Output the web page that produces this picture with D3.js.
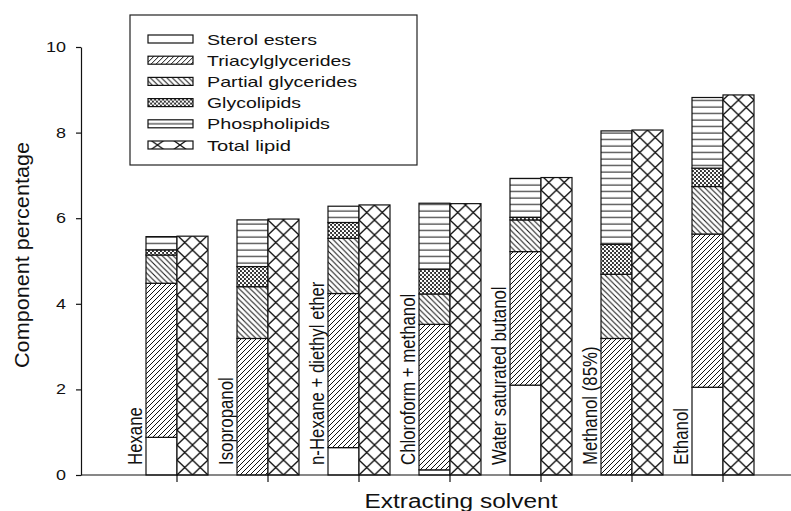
<!DOCTYPE html>
<meta charset="utf-8">
<style>
body { margin: 0; background: #fff; }
text { font-family: "Liberation Sans", Arial, sans-serif; fill: #111; }
.axis path, .axis line { stroke: #111; stroke-width: 1.2px; }
.seg { stroke: #111; stroke-width: 1.2px; }
</style>
<body>
<svg id="chart" width="791" height="511"></svg>
<script src="https://d3js.org/d3.v7.min.js"></script>
<script>

// values (component %, stacked from the bottom)
var solvents = ["Hexane", "Isopropanol", "n-Hexane + diethyl ether", "Chloroform + methanol",
                "Water saturated butanol", "Methanol (85%)", "Ethanol"];
var components = ["Sterol esters", "Triacylglycerides", "Partial glycerides", "Glycolipids", "Phospholipids"];
var sterolEsters      = [0.88, 0.00, 0.64, 0.12, 2.10, 0.00, 2.05];
var triacylglycerides = [3.60, 3.19, 3.60, 3.40, 3.12, 3.19, 3.58];
var partialGlycerides = [0.66, 1.21, 1.29, 0.71, 0.74, 1.50, 1.11];
var glycolipids       = [0.12, 0.47, 0.37, 0.58, 0.06, 0.70, 0.43];
var phospholipids     = [0.31, 1.09, 0.38, 1.54, 0.91, 2.65, 1.65];
var totalLipid        = [5.58, 5.98, 6.31, 6.34, 6.95, 8.06, 8.88];
var yTicks = [0, 2, 4, 6, 8, 10];

var legendNames = components.concat(["Total lipid"]);
var legendWidths = [110, 144, 150, 94, 123, 84];   // text widths in the picture

var svg = d3.select("#chart");
var bw = 31;

var x = d3.scaleBand()
    .domain(solvents)
    .range([131.5, 768.5]);

var y = d3.scaleLinear()
    .domain([0, 10])
    .range([475, 47]);

var cx = function(d) { return x(d) + x.bandwidth() / 2; };

// ---- patterns
var defs = svg.append("defs");

function hatch(id, p, dir) {
  var pat = defs.append("pattern")
      .attr("id", id)
      .attr("patternUnits", "userSpaceOnUse")
      .attr("width", p).attr("height", p);
  pat.append("rect").attr("width", p).attr("height", p).attr("fill", "#fff");
  var d = dir > 0
    ? "M0," + p + "L" + p + ",0M-1,1L1,-1M" + (p - 1) + "," + (p + 1) + "L" + (p + 1) + "," + (p - 1)
    : "M0,0L" + p + "," + p + "M-1," + (p - 1) + "L1," + (p + 1) + "M" + (p - 1) + ",-1L" + (p + 1) + ",1";
  pat.append("path").attr("d", d).attr("stroke", "#111").attr("stroke-width", 1);
}
hatch("p-tag", 5, 1);
hatch("p-partial", 5.5, -1);

var glyco = defs.append("pattern")
    .attr("id", "p-glyco")
    .attr("patternUnits", "userSpaceOnUse")
    .attr("width", 4).attr("height", 4);
glyco.append("rect").attr("width", 4).attr("height", 4).attr("fill", "#2a2a2a");
glyco.selectAll("circle").data([[1, 1], [3, 3]]).enter().append("circle")
    .attr("cx", function(d) { return d[0]; })
    .attr("cy", function(d) { return d[1]; })
    .attr("r", 1.25)
    .attr("fill", "#fff");

function stripes(id, offset) {
  var pat = defs.append("pattern")
      .attr("id", id)
      .attr("patternUnits", "userSpaceOnUse")
      .attr("y", offset)
      .attr("width", 10).attr("height", 6.5);
  pat.append("rect").attr("width", 10).attr("height", 6.5).attr("fill", "#fff");
  pat.append("line").attr("x1", 0).attr("x2", 10).attr("y1", 3).attr("y2", 3)
      .attr("stroke", "#111").attr("stroke-width", 1);
}
stripes("p-phospho", 0);
stripes("p-phospho-leg", -3);

function cross(id, w, h) {
  var pat = defs.append("pattern")
      .attr("id", id)
      .attr("patternUnits", "userSpaceOnUse")
      .attr("width", w).attr("height", h);
  pat.append("rect").attr("width", w).attr("height", h).attr("fill", "#fff");
  pat.append("path")
      .attr("d", "M0,0L" + w + "," + h + "M" + w + ",0L0," + h)
      .attr("stroke", "#111").attr("stroke-width", 1.3);
}
cross("p-total", bw / 2, 15);
cross("p-total-leg", 22.5, 16);

var fills = {
  "Sterol esters": "#fff",
  "Triacylglycerides": "url(#p-tag)",
  "Partial glycerides": "url(#p-partial)",
  "Glycolipids": "url(#p-glyco)",
  "Phospholipids": "url(#p-phospho)",
  "Total lipid": "url(#p-total)"
};
var legendFills = Object.assign({}, fills, {
  "Phospholipids": "url(#p-phospho-leg)",
  "Total lipid": "url(#p-total-leg)"
});

// ---- stacked bars
var rows = solvents.map(function(s, i) {
  return {
    solvent: s,
    "Sterol esters": sterolEsters[i],
    "Triacylglycerides": triacylglycerides[i],
    "Partial glycerides": partialGlycerides[i],
    "Glycolipids": glycolipids[i],
    "Phospholipids": phospholipids[i]
  };
});

var series = d3.stack().keys(components)(rows);

svg.append("g").selectAll("g")
    .data(series)
    .enter().append("g")
      .attr("fill", function(d) { return fills[d.key]; })
    .selectAll("rect")
    .data(function(d) { return d.filter(function(e) { return e[1] - e[0] > 0; }); })
    .enter().append("rect")
      .attr("class", "seg")
      .attr("x", function(d) { return cx(d.data.solvent) - bw; })
      .attr("width", bw)
      .attr("y", function(d) { return y(d[1]); })
      .attr("height", function(d) { return y(d[0]) - y(d[1]); });

// total lipid bars, hatch anchored to each bar's base
svg.append("g").selectAll("g")
    .data(solvents)
    .enter().append("g")
      .attr("transform", function(d) { return "translate(" + cx(d) + "," + y(0) + ")"; })
    .append("rect")
      .attr("class", "seg")
      .attr("x", 0)
      .attr("width", bw)
      .attr("y", function(d, i) { return y(totalLipid[i]) - y(0); })
      .attr("height", function(d, i) { return y(0) - y(totalLipid[i]); })
      .attr("fill", fills["Total lipid"]);

// solvent names written up the side of each pair
svg.append("g").selectAll("text")
    .data(solvents)
    .enter().append("text")
      .attr("transform", function(d) {
        return "translate(" + (cx(d) - bw - 4) + ",465) scale(1.2,1) rotate(-90)";
      })
      .attr("font-size", 16.8)
      .text(function(d) { return d; });

// ---- axes
var yAxis = svg.append("g")
    .attr("class", "axis")
    .attr("transform", "translate(81,0)")
    .call(d3.axisLeft(y).tickValues(yTicks).tickSize(5).tickPadding(10).tickSizeOuter(0));
yAxis.selectAll("text")
    .attr("font-size", 14)
    .attr("textLength", function(d) { return String(d).length * 10; })
    .attr("lengthAdjust", "spacingAndGlyphs")
    .attr("font-family", "Liberation Sans, Arial, sans-serif");

var xAxis = svg.append("g")
    .attr("class", "axis")
    .attr("transform", "translate(0," + y(0) + ")")
    .call(d3.axisBottom(x).tickSize(7).tickFormat(""));
xAxis.select(".domain").remove();
xAxis.selectAll(".tick").attr("transform", function(d) { return "translate(" + cx(d) + ",0)"; });
xAxis.append("line")
    .attr("x1", 81).attr("x2", 791)
    .attr("stroke", "#111").attr("stroke-width", 1.2);

svg.append("text")
    .attr("x", 461)
    .attr("y", 508)
    .attr("text-anchor", "middle")
    .attr("font-size", 20)
    .attr("textLength", 193)
    .attr("lengthAdjust", "spacingAndGlyphs")
    .text("Extracting solvent");

svg.append("text")
    .attr("transform", "translate(29,255) rotate(-90)")
    .attr("text-anchor", "middle")
    .attr("font-size", 20)
    .attr("textLength", 226)
    .attr("lengthAdjust", "spacingAndGlyphs")
    .text("Component percentage");

// ---- legend
var legend = svg.append("g");
legend.append("rect")
    .attr("x", 130).attr("y", 15)
    .attr("width", 287).attr("height", 150)
    .attr("fill", "#fff")
    .attr("stroke", "#222").attr("stroke-width", 1.2);

var item = legend.selectAll("g.item")
    .data(legendNames)
    .enter().append("g")
      .attr("class", "item")
      .attr("transform", function(d, i) { return "translate(0," + (39 + i * 21.2) + ")"; });

item.append("rect")
    .attr("x", 148).attr("y", -4)
    .attr("width", 45).attr("height", 8)
    .attr("fill", function(d) { return legendFills[d]; })
    .attr("stroke", "#111").attr("stroke-width", 1.2);

item.append("text")
    .attr("x", 207)
    .attr("y", 5.5)
    .attr("font-size", 15)
    .attr("textLength", function(d, i) { return legendWidths[i]; })
    .attr("lengthAdjust", "spacingAndGlyphs")
    .text(function(d) { return d; });

</script>
</body>
